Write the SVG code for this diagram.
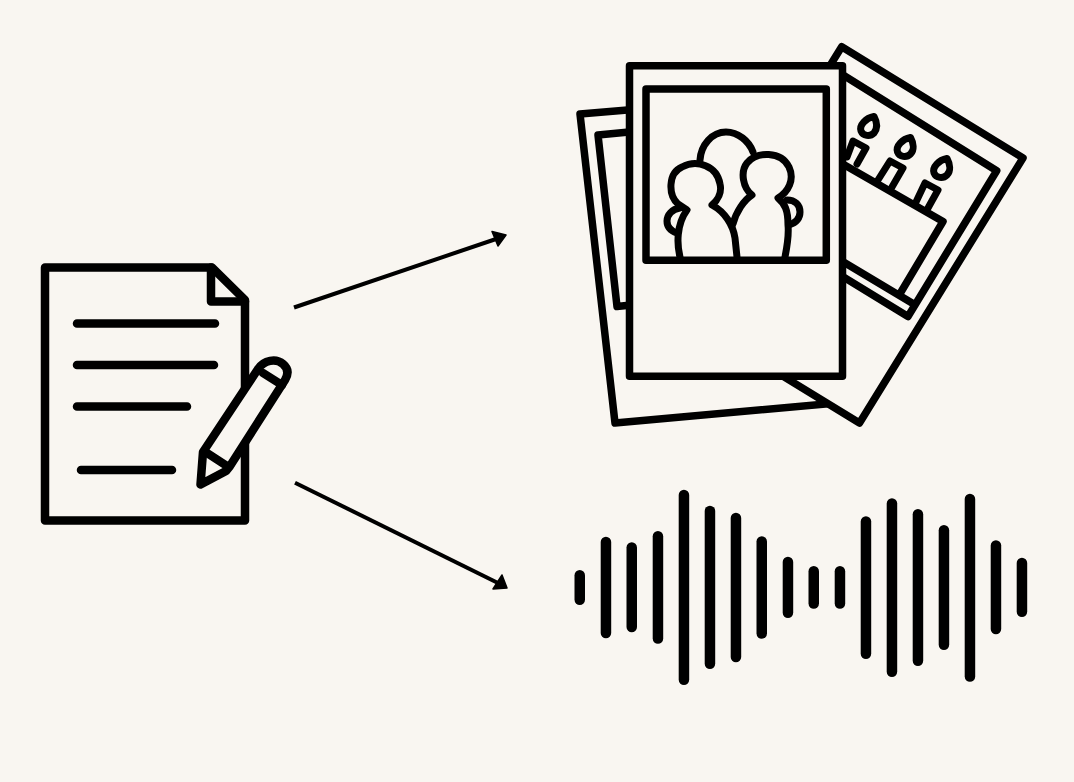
<svg xmlns="http://www.w3.org/2000/svg" width="1074" height="782" viewBox="0 0 1074 782">
<style>
.s{fill:none;stroke:#000;stroke-linejoin:round;stroke-linecap:round;stroke-width:7.500}
.p{fill:none;stroke:#000;stroke-linejoin:round;stroke-linecap:round;stroke-width:7}
.c{fill:none;stroke:#000;stroke-linejoin:round;stroke-linecap:round;stroke-width:7}
.f{fill:#f9f6f1;stroke:#000;stroke-linejoin:round;stroke-linecap:round;stroke-width:7.500}
.d{fill:none;stroke:#000;stroke-linejoin:round;stroke-linecap:round;stroke-width:8.500}
.df{fill:#f9f6f1;stroke:#000;stroke-linejoin:round;stroke-linecap:round;stroke-width:8.500}
.a{fill:none;stroke:#000;stroke-width:4}
.h{fill:#000;stroke:#000;stroke-width:1.500;stroke-linejoin:round}
.b{fill:#000}
</style>
<rect width="1074" height="782" fill="#f9f6f1"/>
<g id="document">
<path class="df" d="M45 267.500H212L245 300V520.500H45Z"/>
<path class="d" d="M211 267.500V301.500H245"/>
<path class="d" d="M77 323.500H215M77 365H214M77 406.500H187M81 470H172"/>
<path class="df" d="M203 452L258 369C264 360 276 358 283 364C289 369 288 375 285 380L230 466L226 471L200.500 484.500Z"/>
<path class="d" d="M263 373L282 385M207 453L227 466"/>
</g>
<g id="photos">
<path class="f" d="M580 114L843 92L870 400L615 423Z"/>
<path class="s" d="M650 130L598 135L617 306.500L660 302"/>
<path class="f" d="M841.700 46.700L1023 158L859.500 423L677.700 311.700Z"/>
<path class="s" d="M835 70L996.700 170.700L908 316.500L760 226"/>
<path class="s" d="M780 128L943 221.500L901 292M800 236L912 303"/>
<g class="candles">
<path class="c" d="M847 157L853 141L866 148L857 164"/>
<path class="c" d="M878 180L890 161L903 168L892 187"/>
<path class="c" d="M916 202L925 183L938 190L928 208"/>
<path class="c" d="M874 116.500C877 122 878 128 874 133C870 137 863 136 861 131C859 125 866 118 874 116.500Z"/>
<path class="c" d="M910.500 137.500C913.500 143 914.500 150 910.500 154C906.500 158 899.500 157 897.500 152C895.500 146 902.500 139 910.500 137.500Z"/>
<path class="c" d="M947 158.500C950 164 951 171 947 175C943 179 936 178 934 173C932 167 939 160 947 158.500Z"/>
</g>
<rect class="f" x="629.500" y="65.700" width="213" height="310.500"/>
<rect class="s" x="646" y="89" width="180.300" height="171.300"/>
<g id="people">
<path class="p" d="M700 160C701 145 712 132 726 132C738 132 749 141 753 152"/>
<path class="p" d="M680 257C677 245 676 225 687 210L678 204C668 195 668 173 682 167C697 159 717 166 720 184C722 192 718 200 712 205C725 212 733 225 735 238L737 257"/>
<path class="p" d="M733 224C736 212 744 200 752 195C743 188 740 172 747 163C757 151 781 151 789 167C795 180 788 192 778 198C785 204 788 210 788 225C789 235 787 247 785 257"/>
<path class="p" d="M680 208C672 209 667 215 667 221C667 227 671 231 677 233"/>
<path class="p" d="M787 200C795 200 800 205 800 212C800 219 795 223 789 225"/>
</g>
</g>
<g id="connectors">
<path class="a" d="M294 307.500L499 238"/>
<path class="h" d="M492 231.500L506 235L498 246Z"/>
<path class="a" d="M295 482.700L500 584"/>
<path class="h" d="M502 575L507 588L493 589Z"/>
</g>
<g id="waveform" class="b">
<rect x="574.500" y="570" width="10.500" height="35" rx="5.250"/>
<rect x="600.700" y="536.700" width="10.500" height="101.600" rx="5.250"/>
<rect x="626.500" y="542.300" width="10.500" height="90" rx="5.250"/>
<rect x="652.700" y="531" width="10.500" height="112.700" rx="5.250"/>
<rect x="678.700" y="489.700" width="10.500" height="195.300" rx="5.250"/>
<rect x="704.700" y="505.700" width="10.500" height="163.300" rx="5.250"/>
<rect x="730.700" y="512.700" width="10.500" height="149.600" rx="5.250"/>
<rect x="756.500" y="536.300" width="10.500" height="102.400" rx="5.250"/>
<rect x="782.700" y="556.700" width="10.500" height="61.300" rx="5.250"/>
<rect x="808.500" y="566" width="10.500" height="42.700" rx="5.250"/>
<rect x="834.700" y="566" width="10.500" height="42.700" rx="5.250"/>
<rect x="860.700" y="516.300" width="10.500" height="142.700" rx="5.250"/>
<rect x="886.700" y="498.300" width="10.500" height="178.700" rx="5.250"/>
<rect x="912.700" y="509" width="10.500" height="157" rx="5.250"/>
<rect x="938.700" y="525" width="10.500" height="125" rx="5.250"/>
<rect x="964.700" y="493.700" width="10.500" height="188" rx="5.250"/>
<rect x="990.700" y="540.300" width="10.500" height="94" rx="5.250"/>
<rect x="1016.700" y="557.700" width="10.500" height="59.300" rx="5.250"/>
</g>
</svg>
